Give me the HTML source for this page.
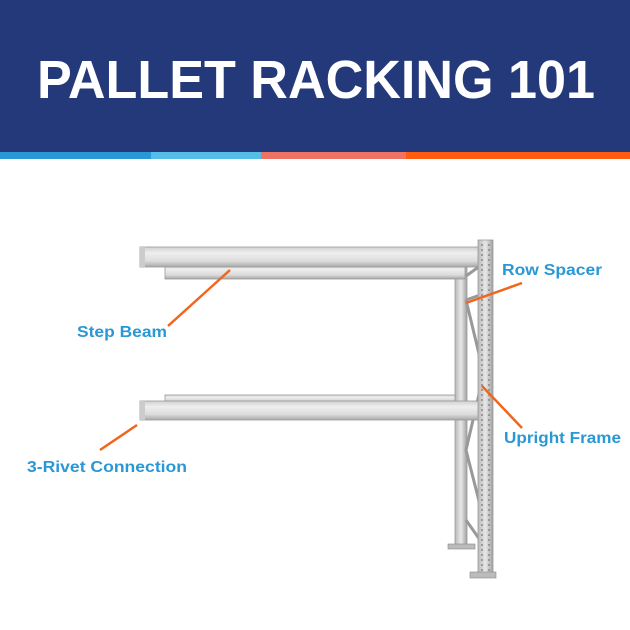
<!DOCTYPE html>
<html><head><meta charset="utf-8"><style>
html,body{margin:0;padding:0;background:#fff;}
svg{display:block}
</style></head><body>
<svg width="630" height="630" viewBox="0 0 630 630" xmlns="http://www.w3.org/2000/svg">
<defs>
<linearGradient id="bm" x1="0" y1="0" x2="0" y2="1">
<stop offset="0" stop-color="#d0d0d0"/><stop offset="0.3" stop-color="#eeeeee"/><stop offset="0.7" stop-color="#dcdcdc"/><stop offset="1" stop-color="#a8a8a8"/>
</linearGradient>
<linearGradient id="up" x1="0" y1="0" x2="1" y2="0">
<stop offset="0" stop-color="#b8b8b8"/><stop offset="0.5" stop-color="#e8e8e8"/><stop offset="1" stop-color="#a0a0a0"/>
</linearGradient>
</defs>
<rect x="0" y="0" width="630" height="152" fill="#24397a"/>
<rect x="0" y="152" width="151" height="7" fill="#2a98d4"/>
<rect x="151" y="152" width="110" height="7" fill="#56bde9"/>
<rect x="261" y="152" width="145" height="7" fill="#f07262"/>
<rect x="406" y="152" width="224" height="7" fill="#ff5c10"/>
<text x="316" y="98" text-anchor="middle" font-family="Liberation Sans, sans-serif" font-weight="bold" font-size="54" fill="#fff" textLength="558" lengthAdjust="spacingAndGlyphs">PALLET RACKING 101</text>

<rect x="455" y="265" width="12" height="282" fill="url(#up)" stroke="#999" stroke-width="0.8"/>
<rect x="448" y="544" width="27" height="5" fill="#bbb" stroke="#888" stroke-width="0.6"/>
<g stroke="#999" stroke-width="3" fill="none">
<line x1="466" y1="300" x2="480" y2="358"/>
<line x1="466" y1="300" x2="480" y2="295"/>
<line x1="466" y1="450" x2="480" y2="390"/>
<line x1="466" y1="450" x2="480" y2="505"/>
<line x1="466" y1="520" x2="480" y2="540"/>
<line x1="466" y1="276" x2="480" y2="266"/>
</g>
<rect x="165" y="265" width="300" height="14" fill="url(#bm)" stroke="#999" stroke-width="0.8"/>
<rect x="140" y="247" width="340" height="20" fill="url(#bm)" stroke="#999" stroke-width="0.8"/>
<rect x="140" y="247" width="5" height="20" fill="#ccc"/>
<rect x="165" y="395" width="290" height="7" fill="url(#bm)" stroke="#999" stroke-width="0.8"/>
<rect x="140" y="401" width="340" height="19" fill="url(#bm)" stroke="#999" stroke-width="0.8"/>
<rect x="140" y="401" width="5" height="19" fill="#ccc"/>
<rect x="478" y="240" width="15" height="335" fill="url(#up)" stroke="#999" stroke-width="0.8"/>
<line x1="482" y1="244" x2="482" y2="572" stroke="#888" stroke-width="1.5" stroke-dasharray="2 3"/>
<line x1="489" y1="244" x2="489" y2="572" stroke="#888" stroke-width="1.5" stroke-dasharray="2 3"/>
<rect x="470" y="572" width="26" height="6" fill="#bbb" stroke="#888" stroke-width="0.6"/>

<g stroke="#f2651c" stroke-width="2.5" fill="none">
<line x1="168" y1="326" x2="230" y2="270"/>
<line x1="522" y1="283" x2="466" y2="303"/>
<line x1="482" y1="386" x2="522" y2="428"/>
<line x1="100" y1="450" x2="137" y2="425"/>
</g>
<g font-family="Liberation Sans, sans-serif" font-weight="bold" font-size="16" fill="#2a98d4">
<text x="502" y="275" textLength="100" lengthAdjust="spacingAndGlyphs">Row Spacer</text>
<text x="77" y="337" textLength="90" lengthAdjust="spacingAndGlyphs">Step Beam</text>
<text x="504" y="443" textLength="117" lengthAdjust="spacingAndGlyphs">Upright Frame</text>
<text x="27" y="472" textLength="160" lengthAdjust="spacingAndGlyphs">3-Rivet Connection</text>
</g>
</svg>
</body></html>
